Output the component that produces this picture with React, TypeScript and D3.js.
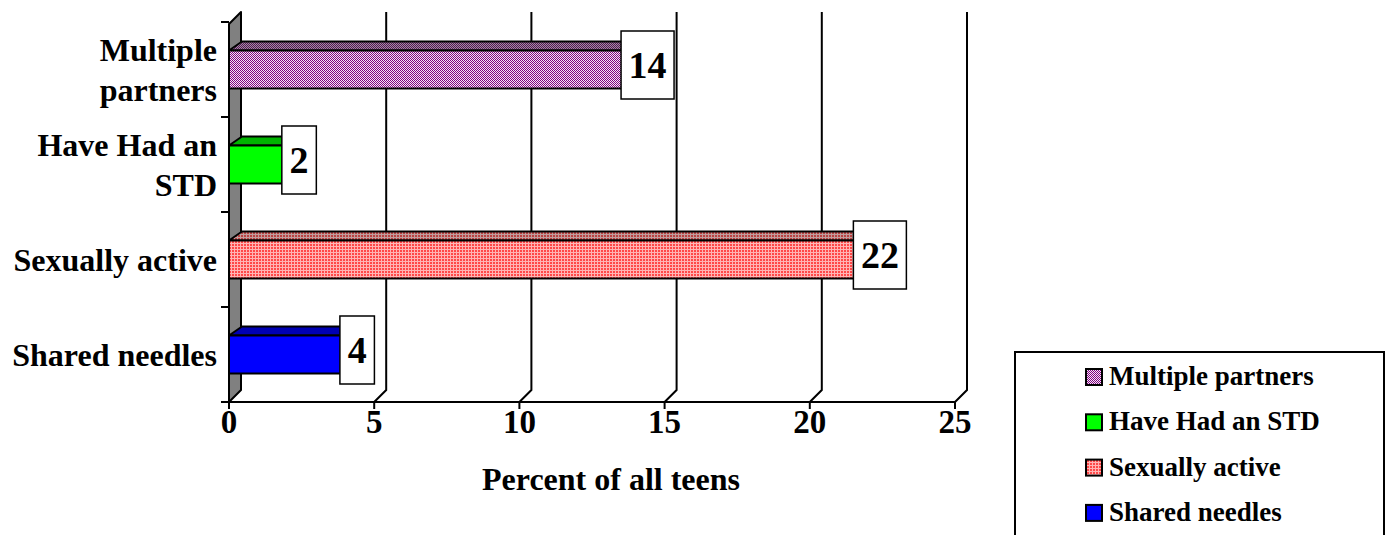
import React from 'react';
import * as d3 from 'd3';

// ── Data ──────────────────────────────────────────────────────────────────────
const categories = ['Multiple partners', 'Have Had an STD', 'Sexually active', 'Shared needles'];
const categoryLines = [['Multiple', 'partners'], ['Have Had an', 'STD'], ['Sexually active'], ['Shared needles']];
const values = [14, 2, 22, 4];
const xTicks = [0, 5, 10, 15, 20, 25];

// ── Layout ────────────────────────────────────────────────────────────────────
const W = 1388;
const H = 535;
const PLOT = { left: 229, right: 955, top: 22, bottom: 402 };
const DEPTH = 12; // wall/floor depth offset
const BAR_DX = 13;
const BAR_DY = 9;
const FONT = '"Liberation Serif", "Times New Roman", serif';

const faceFront = ['url(#purpleFront)', '#00ff00', 'url(#redFront)', '#0000ff'];
const faceTop = ['url(#purpleTop)', '#00b400', 'url(#redTop)', '#0000b4'];
const swatch = ['url(#purpleFront)', '#00ff00', 'url(#redFront)', '#0000ff'];

export default function App() {
  const x = d3.scaleLinear().domain([0, 25]).range([PLOT.left, PLOT.right]);
  const y = d3
    .scaleBand<string>()
    .domain(categories)
    .range([PLOT.top, PLOT.bottom])
    .paddingInner(0.6)
    .paddingOuter(0.3);
  const step = y.step();
  const bw = y.bandwidth();
  const x0 = x(0);

  return (
    <svg
      width={W}
      height={H}
      style={{ position: 'absolute', left: 0, top: 0, background: '#fff' }}
      fontFamily={FONT}
      fontWeight="bold"
    >
      <defs>
        <pattern id="purpleFront" width={2} height={2} patternUnits="userSpaceOnUse">
          <rect width={2} height={2} fill="#f4e8f4" />
          <rect width={1} height={1} fill="#800080" />
          <rect x={1} y={1} width={1} height={1} fill="#800080" />
        </pattern>
        <pattern id="purpleTop" width={2} height={2} patternUnits="userSpaceOnUse">
          <rect width={2} height={2} fill="#a090a0" />
          <rect width={1} height={1} fill="#551155" />
          <rect x={1} y={1} width={1} height={1} fill="#551155" />
        </pattern>
        <pattern id="redFront" width={3} height={3} patternUnits="userSpaceOnUse">
          <rect width={3} height={3} fill="#ff4848" />
          <rect width={3} height={1} fill="#ffb4b4" />
          <rect width={1} height={3} fill="#ffb4b4" />
        </pattern>
        <pattern id="redTop" width={3} height={3} patternUnits="userSpaceOnUse">
          <rect width={3} height={3} fill="#b84040" />
          <rect width={3} height={1} fill="#c09c9c" />
          <rect width={1} height={3} fill="#c09c9c" />
        </pattern>
      </defs>

      {/* Left side wall */}
      <polygon
        points={`${x0},${PLOT.top + DEPTH - 10} ${x0 + DEPTH},${PLOT.top - 10} ${x0 + DEPTH},${PLOT.bottom - DEPTH} ${x0},${PLOT.bottom}`}
        fill="#808080"
        stroke="#000"
        strokeWidth={2}
        strokeLinejoin="round"
      />

      {/* Back-wall gridlines with floor diagonals */}
      {xTicks.filter((t) => t > 0).map((t) => (
        <polyline
          key={t}
          points={`${x(t) + DEPTH},${PLOT.top - 10} ${x(t) + DEPTH},${PLOT.bottom - DEPTH} ${x(t)},${PLOT.bottom}`}
          fill="none"
          stroke="#000"
          strokeWidth={2}
        />
      ))}

      {/* Category axis ticks */}
      {d3.range(categories.length + 1).map((i) => (
        <line
          key={i}
          x1={x0 - 8}
          x2={x0}
          y1={PLOT.top + i * step}
          y2={PLOT.top + i * step}
          stroke="#000"
          strokeWidth={2}
        />
      ))}

      {/* Value axis */}
      <line x1={x0 - 8} x2={x(25)} y1={PLOT.bottom} y2={PLOT.bottom} stroke="#000" strokeWidth={2} />
      {xTicks.map((t) => (
        <g key={t}>
          <line x1={x(t)} x2={x(t)} y1={PLOT.bottom} y2={PLOT.bottom + 7} stroke="#000" strokeWidth={2} />
          <text x={x(t)} y={PLOT.bottom + 31} textAnchor="middle" fontSize={33}>
            {t}
          </text>
        </g>
      ))}

      {/* Bars */}
      {categories.map((c, i) => {
        const y0 = y(c) ?? 0;
        const xe = x(values[i]);
        return (
          <g key={c}>
            <polygon
              points={`${x0},${y0} ${x0 + BAR_DX},${y0 - BAR_DY} ${xe + BAR_DX},${y0 - BAR_DY} ${xe},${y0}`}
              fill={faceTop[i]}
              stroke="#000"
              strokeWidth={2}
              strokeLinejoin="round"
            />
            <rect x={x0} y={y0} width={xe - x0} height={bw} fill={faceFront[i]} stroke="#000" strokeWidth={2} />
          </g>
        );
      })}

      {/* Value labels */}
      {categories.map((c, i) => {
        const cy = (y(c) ?? 0) + bw / 2 - 4.5;
        const cx = x(values[i]) + 12;
        const txt = String(values[i]);
        const boxW = 16 + txt.length * 18.5;
        return (
          <g key={c}>
            <rect x={cx - boxW / 2} y={cy - 34} width={boxW} height={68} fill="#fff" stroke="#000" strokeWidth={1.5} />
            <text x={cx} y={cy + 13} textAnchor="middle" fontSize={38}>
              {txt}
            </text>
          </g>
        );
      })}

      {/* Category labels */}
      {categories.map((c, i) => {
        const cy = (y(c) ?? 0) + bw / 2;
        const lines = categoryLines[i];
        return (
          <text key={c} textAnchor="end" fontSize={32}>
            {lines.map((ln, j) => (
              <tspan key={j} x={217} y={cy + 11 + (j - (lines.length - 1) / 2) * 40}>
                {ln}
              </tspan>
            ))}
          </text>
        );
      })}

      {/* Axis title */}
      <text x={611} y={490} textAnchor="middle" fontSize={32}>
        Percent of all teens
      </text>

      {/* Legend */}
      <rect x={1015} y={352} width={369} height={200} fill="#fff" stroke="#000" strokeWidth={2} />
      {categories.map((c, i) => {
        const base = 385 + i * 45.3;
        return (
          <g key={c}>
            <rect x={1086} y={base - 16} width={16} height={16} fill={swatch[i]} stroke="#000" strokeWidth={2} />
            <text x={1109} y={base} fontSize={27}>
              {c}
            </text>
          </g>
        );
      })}
    </svg>
  );
}
